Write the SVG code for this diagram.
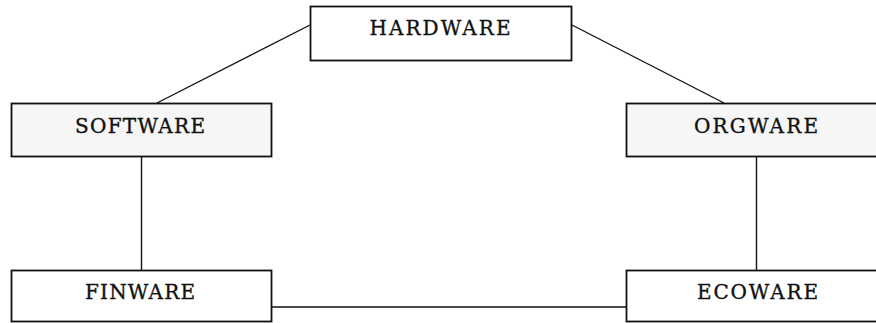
<svg xmlns="http://www.w3.org/2000/svg" width="876" height="323" viewBox="0 0 876 323">
  <style>
    .box { stroke: #111111; stroke-width: 1.8; }
    .plain { fill: #ffffff; }
    .shaded { fill: #f6f6f6; }
    .label { font-family: "DejaVu Serif", "Liberation Serif", serif; font-size: 20px; fill: #111111; stroke: #111111; stroke-width: 0.35; text-anchor: middle; }
    .link { stroke: #111111; stroke-width: 1.4; fill: none; }
  </style>
  <rect width="876" height="323" fill="#ffffff"/>

  <!-- connectors -->
  <g id="connectors">
    <line class="link" x1="310" y1="25" x2="157" y2="103"/>
    <line class="link" x1="572" y1="25" x2="724" y2="103"/>
    <line class="link" x1="141.5" y1="156" x2="141.5" y2="270"/>
    <line class="link" x1="756.5" y1="157" x2="756.5" y2="270"/>
    <line class="link" x1="272" y1="307" x2="626" y2="307"/>
  </g>

  <g id="hardware">
    <rect class="box plain" x="310.5" y="6.5" width="261" height="54"/>
    <text class="label" x="440" y="35" textLength="141" lengthAdjust="spacing">HARDWARE</text>
  </g>

  <g id="software">
    <rect class="box shaded" x="11.5" y="103.5" width="260" height="53"/>
    <text class="label" x="140" y="132.5" textLength="130" lengthAdjust="spacing">SOFTWARE</text>
  </g>

  <g id="orgware">
    <rect class="box shaded" x="626.5" y="103.5" width="260" height="53"/>
    <text class="label" x="756" y="132.5" textLength="124" lengthAdjust="spacing">ORGWARE</text>
  </g>

  <g id="finware">
    <rect class="box plain" x="11.5" y="270.5" width="260" height="51"/>
    <text class="label" x="140" y="299" textLength="110" lengthAdjust="spacing">FINWARE</text>
  </g>

  <g id="ecoware">
    <rect class="box plain" x="626.5" y="270.5" width="260" height="51"/>
    <text class="label" x="757.5" y="299" textLength="121" lengthAdjust="spacing">ECOWARE</text>
  </g>
</svg>
